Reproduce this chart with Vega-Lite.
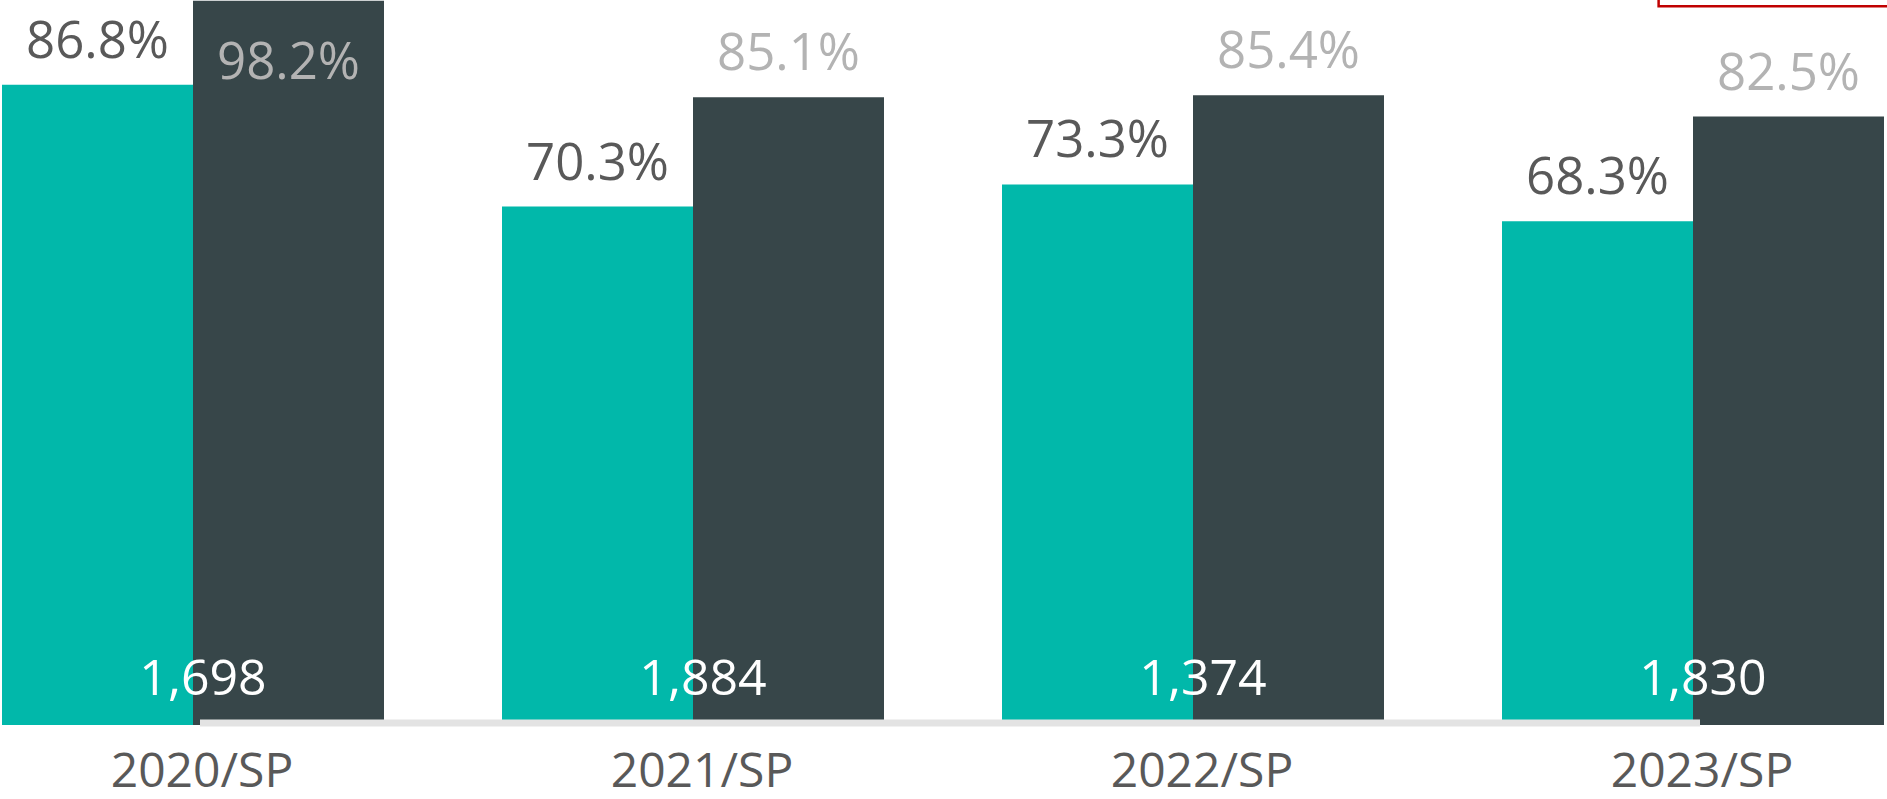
{
  "$schema": "https://vega.github.io/schema/vega-lite/v6.json",
  "autosize": "none",
  "width": 1882,
  "height": 725,
  "padding": {"left": 2, "top": 0, "right": 3, "bottom": 74},
  "background": "white",
  "config": {"view": {"stroke": null}, "font": "Open Sans"},
  "datasets": {
    "rates": [
      {"year": "2020/SP", "series": "A", "value": 0.868},
      {"year": "2020/SP", "series": "B", "value": 0.982},
      {"year": "2021/SP", "series": "A", "value": 0.703},
      {"year": "2021/SP", "series": "B", "value": 0.851},
      {"year": "2022/SP", "series": "A", "value": 0.733},
      {"year": "2022/SP", "series": "B", "value": 0.854},
      {"year": "2023/SP", "series": "A", "value": 0.683},
      {"year": "2023/SP", "series": "B", "value": 0.825}
    ],
    "counts": [
      {"year": "2020/SP", "count": 1698},
      {"year": "2021/SP", "count": 1884},
      {"year": "2022/SP", "count": 1374},
      {"year": "2023/SP", "count": 1830}
    ]
  },
  "encoding": {
    "x": {
      "field": "year",
      "type": "nominal",
      "sort": null,
      "scale": {"paddingInner": 0.236, "paddingOuter": 0},
      "axis": {
        "title": null,
        "domain": false,
        "ticks": false,
        "tickSize": 0,
        "labelAngle": 0,
        "labelFont": "Open Sans",
        "labelFontSize": 48,
        "labelColor": "#595959",
        "labelPadding": 23,
        "labelOffset": 9,
        "labelLimit": 0,
        "labelOverlap": false
      }
    }
  },
  "layer": [
    {
      "data": {"name": "rates"},
      "mark": {"type": "bar"},
      "encoding": {
        "xOffset": {"field": "series", "type": "nominal", "scale": {"domain": ["A", "B"], "paddingInner": 0, "paddingOuter": 0}},
        "y": {"field": "value", "type": "quantitative", "scale": {"domain": [0, 0.983], "nice": false, "zero": true}, "axis": null},
        "color": {"field": "series", "type": "nominal", "scale": {"domain": ["A", "B"], "range": ["#01B8AA", "#374649"]}, "legend": null}
      }
    },
    {
      "data": {"name": "rates"},
      "transform": [{"filter": "datum.series === 'A'"}],
      "mark": {"type": "text", "baseline": "alphabetic", "dy": -27, "fontSize": 51, "color": "#595959", "font": "Open Sans"},
      "encoding": {
        "xOffset": {"field": "series", "type": "nominal"},
        "y": {"field": "value", "type": "quantitative"},
        "text": {"field": "value", "type": "quantitative", "format": ".1%"}
      }
    },
    {
      "data": {"name": "rates"},
      "transform": [{"filter": "datum.series === 'B' && datum.value < 0.95"}],
      "mark": {"type": "text", "baseline": "alphabetic", "dy": -27, "fontSize": 51, "color": "#b3b3b3", "font": "Open Sans"},
      "encoding": {
        "xOffset": {"field": "series", "type": "nominal"},
        "y": {"field": "value", "type": "quantitative"},
        "text": {"field": "value", "type": "quantitative", "format": ".1%"}
      }
    },
    {
      "data": {"name": "rates"},
      "transform": [{"filter": "datum.series === 'B' && datum.value >= 0.95"}],
      "mark": {"type": "text", "baseline": "alphabetic", "dy": 78, "fontSize": 51, "color": "#b3b3b3", "font": "Open Sans"},
      "encoding": {
        "xOffset": {"field": "series", "type": "nominal"},
        "y": {"field": "value", "type": "quantitative"},
        "text": {"field": "value", "type": "quantitative", "format": ".1%"}
      }
    },
    {
      "data": {"name": "counts"},
      "mark": {"type": "line", "color": "#e3e3e3", "strokeWidth": 7, "strokeCap": "butt", "xOffset": 7, "yOffset": -2},
      "encoding": {
        "y": {"datum": 0, "type": "quantitative"}
      }
    },
    {
      "data": {"name": "counts"},
      "mark": {"type": "text", "baseline": "alphabetic", "dy": -30, "dx": 10, "fontSize": 50, "color": "white", "font": "Open Sans"},
      "encoding": {
        "y": {"datum": 0, "type": "quantitative"},
        "text": {"field": "count", "type": "quantitative", "format": ",d"}
      }
    },
    {
      "data": {"values": [{}]},
      "mark": {"type": "rect", "fill": null, "fillOpacity": 0, "stroke": "#c00000", "strokeWidth": 2.5, "clip": false},
      "encoding": {
        "x": {"datum": "2023/SP", "bandPosition": 0.41},
        "x2": {"datum": "2023/SP", "bandPosition": 1.05},
        "y": {"datum": 1.05, "type": "quantitative"},
        "y2": {"datum": 0.9745}
      }
    }
  ]
}
